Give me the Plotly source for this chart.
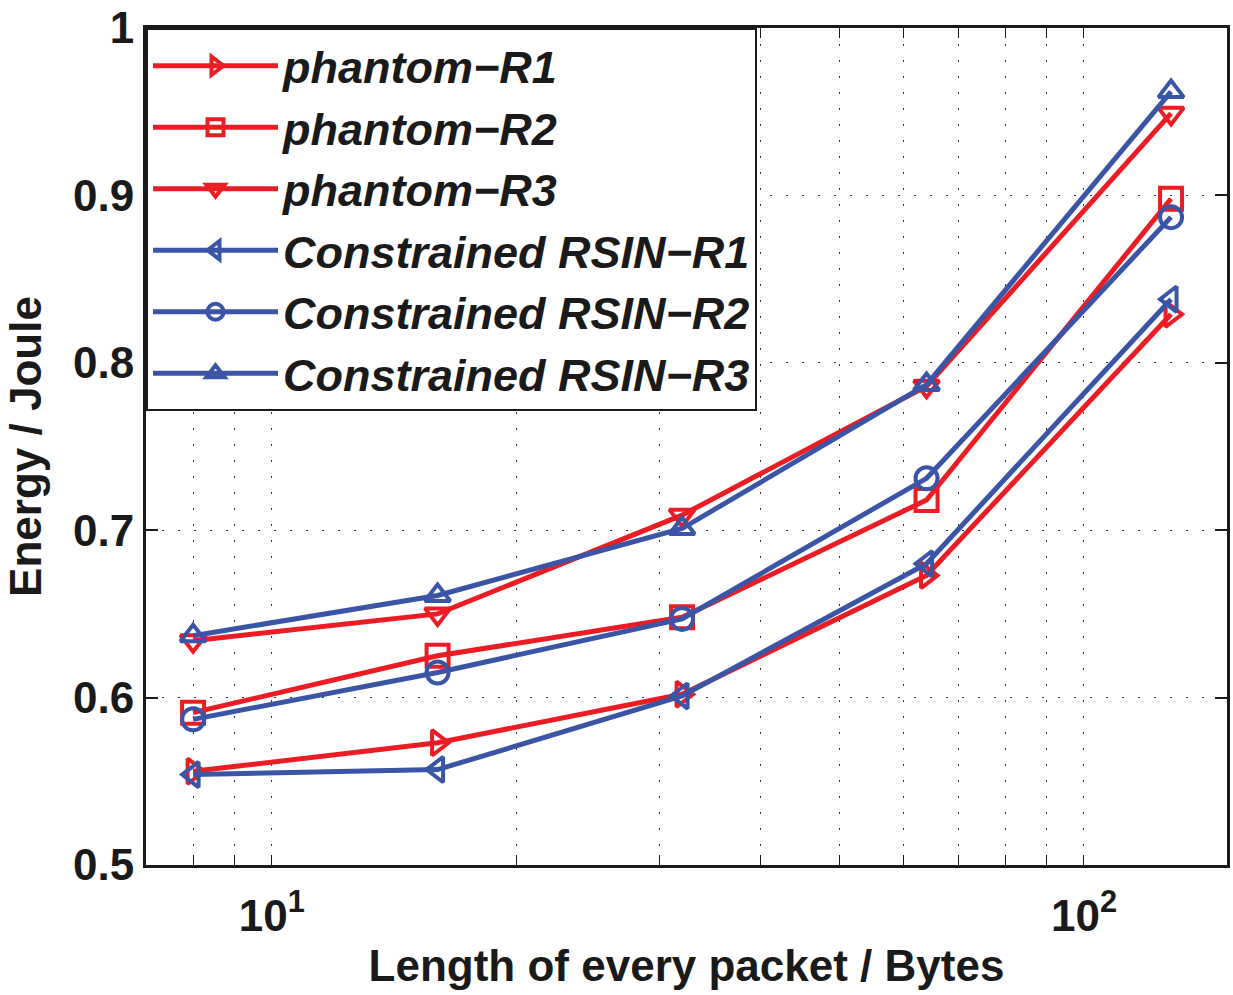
import plotly.graph_objects as go

packet_len = [8, 16, 32, 64, 128]
phantom_r1 = [0.556, 0.573, 0.602, 0.673, 0.829]
phantom_r2 = [0.591, 0.625, 0.648, 0.718, 0.898]
phantom_r3 = [0.634, 0.650, 0.709, 0.786, 0.949]
crsin_r1 = [0.554, 0.557, 0.601, 0.680, 0.838]
crsin_r2 = [0.587, 0.615, 0.647, 0.731, 0.887]
crsin_r3 = [0.637, 0.661, 0.701, 0.787, 0.962]

series_names = ["phantom\u2212R1", "phantom\u2212R2", "phantom\u2212R3",
                "Constrained RSIN\u2212R1", "Constrained RSIN\u2212R2", "Constrained RSIN\u2212R3"]

x_major_vals = [10, 100]
x_major_text = ["10<sup>1</sup>", "10<sup>2</sup>"]
x_minor_vals = [8, 9, 20, 30, 40, 50, 60, 70, 80, 90]
y_tickvals = [0.5, 0.6, 0.7, 0.8, 0.9, 1.0]
y_ticktext = ["0.5", "0.6", "0.7", "0.8", "0.9", "1"]

RED = "#ec1c24"
BLUE = "#3a55a5"

series = [
    (phantom_r1, RED, "triangle-right-open"),
    (phantom_r2, RED, "square-open"),
    (phantom_r3, RED, "triangle-down-open"),
    (crsin_r1, BLUE, "triangle-left-open"),
    (crsin_r2, BLUE, "circle-open"),
    (crsin_r3, BLUE, "triangle-up-open"),
]

fig = go.Figure()
for (vals, col, sym), name in zip(series, series_names):
    fig.add_trace(go.Scatter(
        x=packet_len, y=vals, name=name, mode="lines+markers",
        line=dict(color=col, width=5),
        marker=dict(symbol=sym, size=22, color=col, line=dict(color=col, width=4)),
    ))

FONT = "Liberation Sans, Arial, sans-serif"
grid_dash = "2px,14px"
INK = "#1a1a1a"

fig.update_layout(
    width=1233, height=995,
    margin=dict(l=146, r=3, t=27, b=130),
    paper_bgcolor="white", plot_bgcolor="white",
    font=dict(family=FONT, size=44, color=INK, weight="bold"),
    showlegend=True,
    legend=dict(
        x=0, y=1, xanchor="left", yanchor="top",
        bgcolor="white", bordercolor=INK, borderwidth=2,
        font=dict(family=FONT, size=45, color=INK, style="italic", weight="bold"),
        itemwidth=125, tracegroupgap=0,
    ),
    xaxis=dict(
        type="log", range=[0.8451, 2.1761],
        tickmode="array", tickvals=x_major_vals, ticktext=x_major_text,
        ticks="inside", ticklen=10, tickwidth=1, tickcolor=INK,
        ticklabelstandoff=10,
        minor=dict(tickmode="array", tickvals=x_minor_vals, ticks="inside",
                   ticklen=10, tickwidth=1, tickcolor=INK,
                   showgrid=True, gridcolor="#333333", gridwidth=1, griddash=grid_dash),
        showline=True, linecolor=INK, linewidth=3, mirror="ticks",
        showgrid=True, gridcolor="#333333", gridwidth=1, griddash=grid_dash,
        zeroline=False,
        tickfont=dict(size=44),
        title=dict(text="Length of every packet / Bytes", font=dict(size=44), standoff=12),
    ),
    yaxis=dict(
        range=[0.5, 1.0],
        tickmode="array", tickvals=y_tickvals, ticktext=y_ticktext,
        ticks="inside", ticklen=12, tickwidth=1.5, tickcolor=INK,
        showline=True, linecolor=INK, linewidth=3, mirror="ticks",
        showgrid=True, gridcolor="#333333", gridwidth=1, griddash=grid_dash,
        zeroline=False,
        tickfont=dict(size=44),
        title=dict(text="Energy / Joule", font=dict(size=44), standoff=18),
    ),
)

fig.write_html("out.html")
